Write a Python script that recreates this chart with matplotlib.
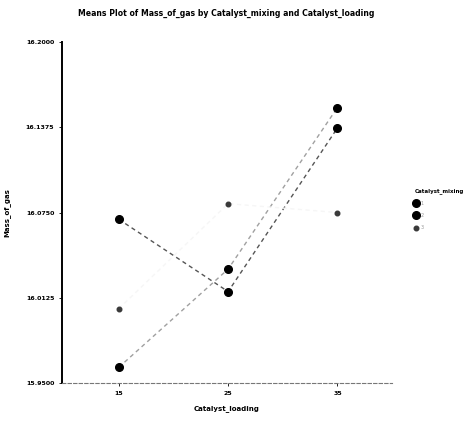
import matplotlib
matplotlib.use("Agg")
import matplotlib.pyplot as plt

categories = ["15", "25", "35"]
mixing_levels = ["1", "2", "3"]
series_a = [16.0700, 16.0170, 16.1370]
series_b = [15.9615, 16.0335, 16.1520]
series_c = [16.0045, 16.0815, 16.0750]
y_ticks = [15.9500, 16.0125, 16.0750, 16.1375, 16.2000]

fig = plt.figure(figsize=(4.75, 4.23), dpi=100)
ax = fig.add_axes([0.1305, 0.0946, 0.695, 0.806])

xs = list(range(len(categories)))
styles = [
    dict(color="#555555", mfc="black", mec="black", ms=5.5, lw=1.0),
    dict(color="#a0a0a0", mfc="black", mec="black", ms=5.5, lw=1.0),
    dict(color="#f6f6f6", mfc="#3a3a3a", mec="#3a3a3a", ms=3.3, lw=1.0),
]
handles = []
for vals, st, lab in zip([series_a, series_b, series_c], styles, mixing_levels):
    ax.plot(xs, vals, linestyle=(0, (3, 2.5)), color=st["color"], lw=st["lw"], zorder=2)
    h, = ax.plot(xs, vals, linestyle="none", marker="o", ms=st["ms"],
                 mfc=st["mfc"], mec=st["mec"], zorder=3, label=lab)
    handles.append(h)

ax.set_xlim(-0.52, 2.5)
ax.set_ylim(15.95, 16.2)
ax.set_xticks(xs)
ax.set_xticklabels(categories)
ax.set_yticks(y_ticks)
ax.set_yticklabels([f"{v:.4f}" for v in y_ticks])
ax.tick_params(labelsize=4.5, length=2, width=0.6)
for lbl in ax.get_xticklabels() + ax.get_yticklabels():
    lbl.set_fontweight("bold")

ax.spines["top"].set_visible(False)
ax.spines["right"].set_visible(False)
ax.spines["left"].set_linewidth(1.4)
ax.spines["bottom"].set_linewidth(0.8)
ax.spines["bottom"].set_linestyle((0, (3, 2)))
ax.spines["bottom"].set_color("#777777")

ax.set_xlabel("Catalyst_loading", fontsize=5, fontweight="bold", labelpad=7)
ax.set_ylabel("Mass_of_gas", fontsize=5, fontweight="bold", labelpad=11)
fig.suptitle("Means Plot of Mass_of_gas by Catalyst_mixing and Catalyst_loading",
             fontsize=5.6, fontweight="bold", x=0.477, y=0.978)

leg = ax.legend(handles=handles, title="Catalyst_mixing", loc="upper left",
                bbox_to_anchor=(1.062, 0.58), frameon=False, fontsize=3.5,
                title_fontsize=4, handlelength=0.6, handletextpad=0.6,
                labelspacing=1.5, borderpad=0, alignment="left")
leg.get_title().set_fontweight("bold")
for t in leg.get_texts():
    t.set_color("#999999")

fig.savefig("out.png", dpi=100)
